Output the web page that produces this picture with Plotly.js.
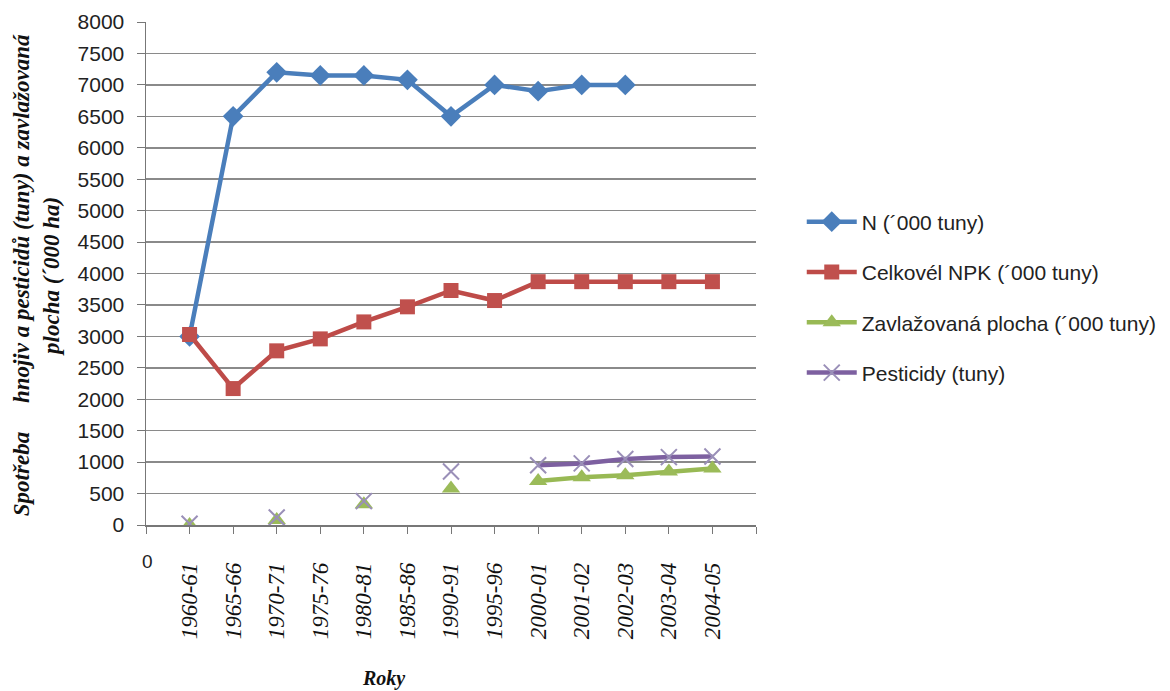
<!DOCTYPE html>
<html><head><meta charset="utf-8">
<script src="https://cdn.plot.ly/plotly-3.0.1.min.js"></script>
<style>body{margin:0;background:#fff}#chart{width:1170px;height:691px}</style>
</head><body><div id="chart"></div>
<script>
const categories = ['1960-61','1965-66','1970-71','1975-76','1980-81','1985-86','1990-91','1995-96','2000-01','2001-02','2002-03','2003-04','2004-05'];
const axisStartLabel = '0';
const axisEndLabel = ' ';
const nValues = [3000,6500,7200,7150,7150,7080,6500,7000,6900,7000,7000,null,null];
const npkValues = [3030,2170,2770,2960,3230,3470,3730,3570,3870,3870,3870,3870,3870];
const irrigatedValues = [0,null,80,null,330,null,580,null,700,760,790,850,900];
const pesticideValues = [20,null,120,null,380,null,850,null,950,980,1050,1080,1090];
const seriesNames = ['N (´000 tuny)','Celkovél NPK (´000 tuny)','Zavlažovaná plocha (´000 tuny)','Pesticidy (tuny)'];
const yTicks = [0,500,1000,1500,2000,2500,3000,3500,4000,4500,5000,5500,6000,6500,7000,7500,8000];
const yTitle = 'Spotřeba\u00a0\u00a0\u00a0\u00a0\u00a0hnojiv a pesticidů (tuny) a zavlažovaná<br>plocha (´000 ha)';
const xTitle = 'Roky';

const allCats = [axisStartLabel, ...categories, axisEndLabel];
const tickText = ['', ...categories, ''];

const traces = [
  {name: seriesNames[0], x: categories, y: nValues, mode:'lines+markers', connectgaps:false,
   line:{color:'#4A7EBB', width:4.5}, marker:{symbol:'diamond', size:16, color:'#4A7EBB'}, legendgroup:'a'},
  {name: seriesNames[1], x: categories, y: npkValues, mode:'lines+markers', connectgaps:false,
   line:{color:'#BE4B48', width:4.5}, marker:{symbol:'square', size:15, color:'#C0504D'}, legendgroup:'b'},
  {name: seriesNames[2], x: categories, y: irrigatedValues, mode:'lines+markers', connectgaps:false,
   line:{color:'#98B954', width:4.5}, marker:{symbol:'triangle-up', size:16, color:'#9BBB59'}, legendgroup:'c'},
  {name: seriesNames[3], x: categories, y: pesticideValues, mode:'lines+markers', connectgaps:false,
   line:{color:'#7D60A0', width:4.5}, marker:{symbol:'x-thin', size:16, color:'#9a8fb8', line:{color:'#9a8fb8', width:2}}, legendgroup:'d'}
];

const layout = {
  width:1170, height:691,
  margin:{l:146, r:414, t:22, b:166, autoexpand:false},
  paper_bgcolor:'#fff', plot_bgcolor:'#fff',
  showlegend:true,
  legend:{x:1.075, y:0.643, xanchor:'left', yanchor:'top', tracegroupgap:20, itemwidth:50,
    font:{family:'Liberation Sans, Arial, sans-serif', size:21, color:'#222'}, bgcolor:'rgba(0,0,0,0)'},
  xaxis:{type:'category', categoryorder:'array', categoryarray:allCats, range:[0, allCats.length-1],
    tickmode:'array', tickvals:allCats, ticktext:tickText, tickangle:-90,
    ticks:'outside', ticklen:7, tickcolor:'#777', ticklabelstandoff:20,
    showline:true, linecolor:'#777', linewidth:1.5, showgrid:false, zeroline:false,
    tickfont:{family:'Liberation Serif, Times New Roman, serif', size:23, style:'italic', color:'#111'}},
  yaxis:{range:[0,8000], tickmode:'array', tickvals:yTicks, ticks:'outside', ticklen:8, tickcolor:'#777',
    ticklabelstandoff:8,
    showline:true, linecolor:'#777', linewidth:1.5, showgrid:true, gridcolor:'#8a8a8a', gridwidth:1.5, zeroline:false,
    tickfont:{family:'Liberation Sans, Arial, sans-serif', size:21, color:'#222'}},
  annotations:[
    {text: yTitle, textangle:-90, align:'center', xref:'paper', yref:'paper', x:-0.18, y:0.497, xanchor:'center', yanchor:'middle', showarrow:false,
     font:{family:'Liberation Serif, Times New Roman, serif', size:23, style:'italic', weight:'bold', color:'#111'}},
    {text: axisStartLabel, xref:'paper', yref:'paper', x:0.002, y:-0.072, xanchor:'center', yanchor:'middle', showarrow:false,
     font:{family:'Liberation Sans, Arial, sans-serif', size:19, color:'#222'}},
    {text: xTitle, xref:'paper', yref:'paper', x:0.39, y:-0.305, xanchor:'center', yanchor:'middle', showarrow:false,
     font:{family:'Liberation Serif, Times New Roman, serif', size:20, style:'italic', weight:'bold', color:'#111'}}
  ]
};
Plotly.newPlot('chart', traces, layout, {displayModeBar:false, staticPlot:true});
</script></body></html>
